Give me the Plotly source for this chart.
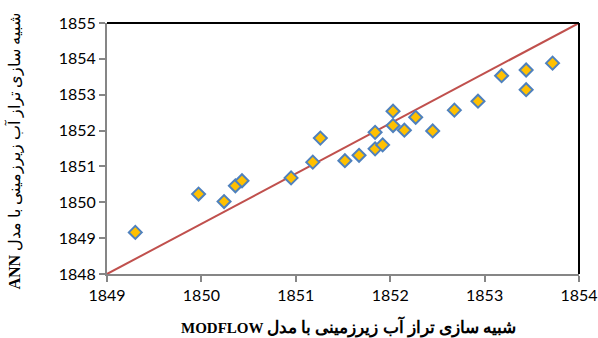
import plotly.graph_objects as go

modflow = [1849.30, 1849.97, 1850.24, 1850.36, 1850.43, 1850.95, 1851.18, 1851.26,
           1851.52, 1851.67, 1851.84, 1851.92, 1851.84, 1852.03, 1852.03, 1852.15,
           1852.27, 1852.45, 1852.68, 1852.93, 1853.18, 1853.44, 1853.44, 1853.72]
ann = [1849.16, 1850.23, 1850.02, 1850.46, 1850.60, 1850.68, 1851.12, 1851.79,
       1851.16, 1851.31, 1851.49, 1851.60, 1851.95, 1852.54, 1852.14, 1852.01,
       1852.37, 1851.99, 1852.57, 1852.82, 1853.53, 1853.69, 1853.14, 1853.88]
line_x = [1849, 1854]
line_y = [1848, 1855]
x_ticks = [1849, 1850, 1851, 1852, 1853, 1854]
y_ticks = [1848, 1849, 1850, 1851, 1852, 1853, 1854, 1855]

x_title = ("<b>MODFLOW <span style='font-size:17px'>"
           "شبیه سازی تراز آب زیرزمینی با مدل</span></b>")
y_title = "<b>ANN</b> شبیه سازی تراز آب زیرزمینی با مدل"

fig = go.Figure()
fig.add_trace(go.Scatter(x=line_x, y=line_y, mode="lines",
                         line=dict(color="#C0504D", width=2), hoverinfo="skip"))
fig.add_trace(go.Scatter(x=modflow, y=ann, mode="markers",
                         marker=dict(symbol="diamond", size=10, color="#FFC000",
                                     line=dict(color="#4F81BD", width=2))))

tickfont = dict(family="Lato, Open Sans, sans-serif", size=16, color="#000000")
fig.update_layout(
    width=598, height=338,
    margin=dict(l=107, r=19, t=23, b=64),
    plot_bgcolor="white", paper_bgcolor="white",
    showlegend=False,
    xaxis=dict(range=[1849, 1854], tickvals=x_ticks, ticks="outside", ticklen=6,
               tickwidth=2, tickcolor="#868686", showline=True, linecolor="#868686",
               linewidth=2, showgrid=False, zeroline=False, tickfont=tickfont,
               automargin=False),
    yaxis=dict(range=[1848, 1855], tickvals=y_ticks, ticks="outside", ticklen=6,
               tickwidth=2, tickcolor="#868686", showline=True, linecolor="#868686",
               linewidth=2, showgrid=False, zeroline=False, tickfont=tickfont,
               automargin=False),
    shapes=[
        dict(type="line", xref="paper", yref="paper", x0=0, x1=1, y0=1, y1=1,
             line=dict(color="black", width=2)),
        dict(type="line", xref="paper", yref="paper", x0=1, x1=1, y0=0, y1=1,
             line=dict(color="black", width=2)),
    ],
    annotations=[
        dict(text=x_title, xref="paper", yref="paper", x=(348 - 107) / 472, y=-0.21,
             xanchor="center", yanchor="middle", showarrow=False,
             font=dict(family="Liberation Serif, DejaVu Serif, serif", size=15, color="black")),
        dict(text=y_title, xref="paper", yref="paper", x=-0.196, y=0.49,
             xanchor="center", yanchor="middle", showarrow=False, textangle=-90,
             font=dict(family="Liberation Serif, DejaVu Serif, serif", size=16, color="black")),
    ],
)
fig.write_html("out.html")
